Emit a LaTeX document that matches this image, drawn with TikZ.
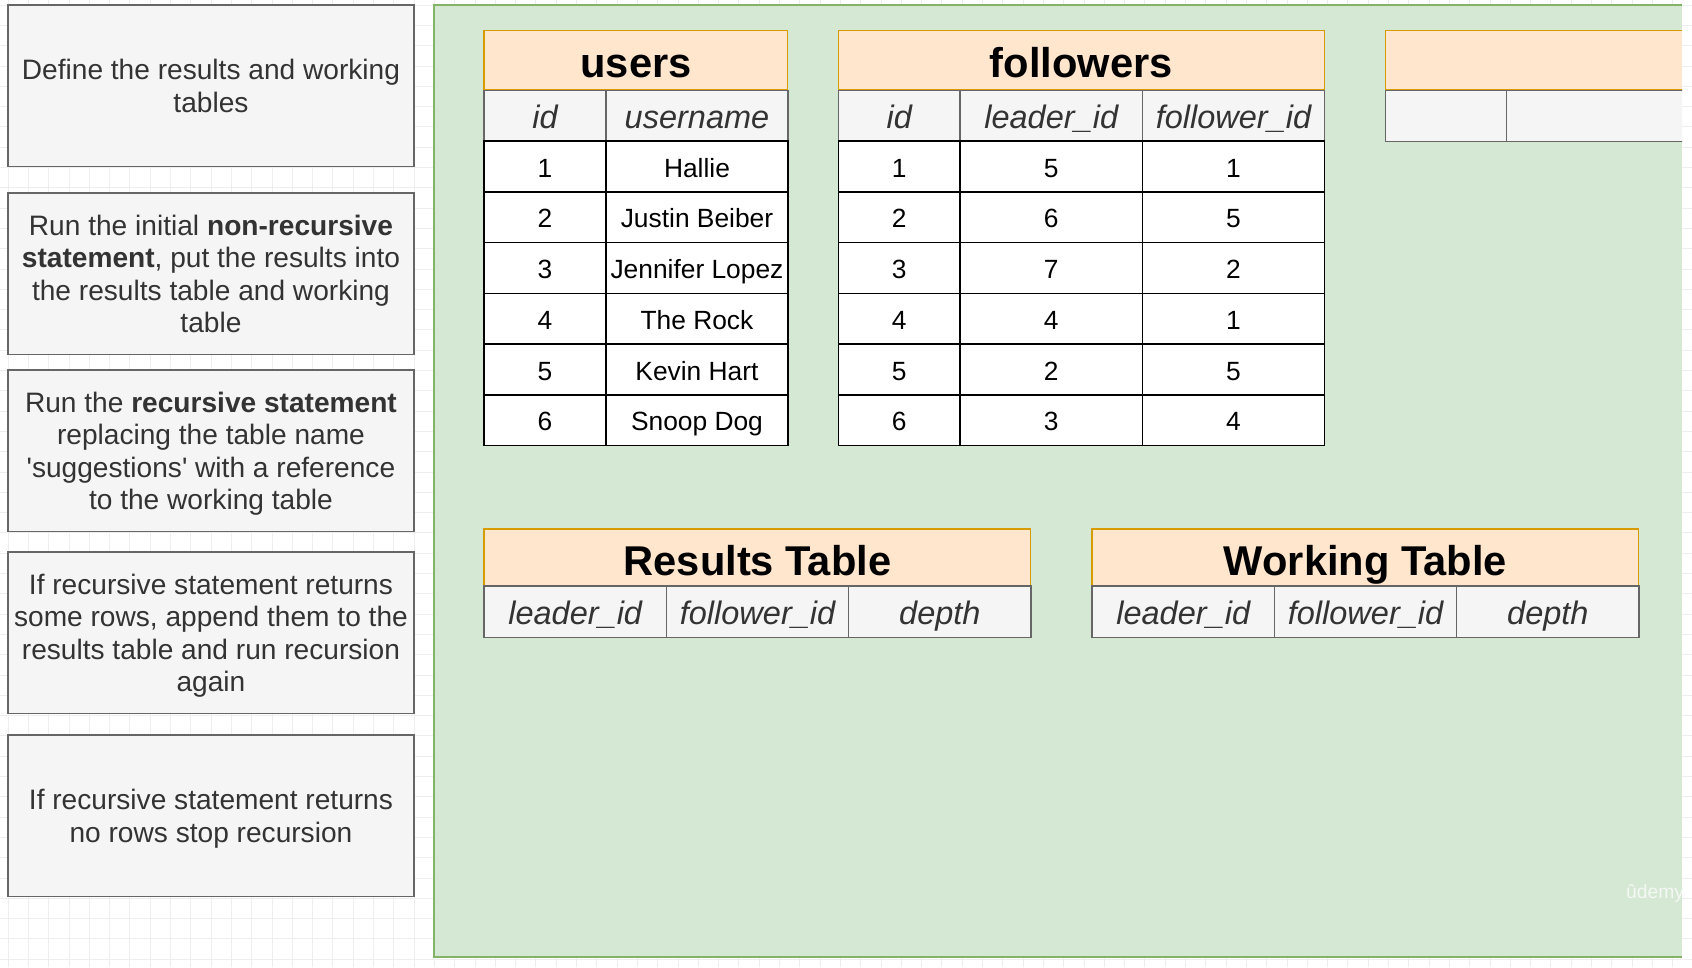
\documentclass[tikz,border=0pt]{standalone}
\usepackage{fontspec}
\setmainfont{Liberation Sans}
\definecolor{stepfill}{HTML}{F5F5F5}
\definecolor{stepline}{HTML}{666666}
\definecolor{txt}{HTML}{333333}
\definecolor{peach}{HTML}{FFE6CC}
\definecolor{peachline}{HTML}{D79B00}
\definecolor{panel}{HTML}{D5E8D4}
\definecolor{panelline}{HTML}{82B366}
\definecolor{gridc}{HTML}{EEEEEE}

\tikzset{
  stepbox/.style={draw=stepline, fill=stepfill, line width=0.85pt, text=txt, align=center,
    minimum width=8.12cm, minimum height=3.23cm, inner sep=0pt, outer sep=0pt, anchor=north west,
    text depth=0pt, font=\fontsize{16}{18.4}\selectfont},
  ttl/.style={draw=peachline, fill=peach, line width=0.6pt, minimum height=1.19cm, inner sep=0pt,
    outer sep=0pt, anchor=north west, text height=22.5pt, text depth=2.4pt,
    font=\fontsize{23.7}{24}\selectfont\bfseries},
  hdr/.style={draw=stepline, fill=stepfill, line width=0.85pt, text=txt, minimum height=1.02cm,
    inner sep=0pt, outer sep=0pt, anchor=north west, text height=15.9pt, text depth=1.85pt,
    font=\fontsize{18.5}{20}\selectfont\itshape},
  cell/.style={draw=black, fill=white, line width=0.85pt, minimum height=1.015cm, inner sep=0pt,
    outer sep=0pt, anchor=north west, text height=13.8pt, text depth=1.5pt,
    font=\fontsize{15}{16}\selectfont},
}

\begin{document}
\begin{tikzpicture}[x=0.02cm,y=-0.02cm]
\useasboundingbox (0,0) rectangle (1692,967);
% background grid
\foreach \k in {0,...,83} \draw[gridc, line width=0.4pt] ({8+20.3*\k},0) -- ++(0,967);
\foreach \k in {0,...,47} \draw[gridc, line width=0.4pt] (0,{5+20.3*\k}) -- ++(1692,0);

% steps on the left
\node[stepbox] (s1) at (8,5) {Define the results and working\\tables};
\node[stepbox] (s2) at (8,193) {Run the initial \textbf{non-recursive}\\\textbf{statement}, put the results into\\the results table and working\\table};
\node[stepbox] (s3) at (8,370) {Run the \textbf{recursive statement}\\replacing the table name\\\textquotesingle suggestions\textquotesingle{} with a reference\\to the working table};
\node[stepbox] (s4) at (8,552) {If recursive statement returns\\some rows, append them to the\\results table and run recursion\\again};
\node[stepbox] (s5) at (8,735) {If recursive statement returns\\no rows stop recursion};

% green panel
\fill[panel] (434,5) rectangle (1682,957);
\draw[panelline, line width=0.85pt] (1682,5) -- (434,5) -- (434,957) -- (1682,957);

% users
\node[ttl, minimum width=6.08cm] (users) at (484,30.5) {users};
\node[hdr, minimum width=2.44cm] (uid) at (484,90.7) {id};
\node[hdr, minimum width=3.64cm] (uname) at (606,90.7) {username};
\foreach \a/\b [count=\r] in {1/Hallie, 2/Justin Beiber, 3/Jennifer Lopez, 4/The Rock, 5/Kevin Hart, 6/Snoop Dog}{
  \node[cell, minimum width=2.44cm] (u\r-id) at (484,{141+50.75*(\r-1)}) {\a};
  \node[cell, minimum width=3.64cm] (u\r-name) at (606,{141+50.75*(\r-1)}) {\b};
}

% followers
\node[ttl, minimum width=9.72cm] (followers) at (838.3,30.5) {followers};
\node[hdr, minimum width=2.44cm] (fid) at (838.3,90.7) {id};
\node[hdr, minimum width=3.65cm] (flead) at (960,90.7) {leader\_id};
\node[hdr, minimum width=3.64cm] (ffol) at (1142.5,90.7) {follower\_id};
\foreach \a/\b/\c [count=\r] in {1/5/1, 2/6/5, 3/7/2, 4/4/1, 5/2/5, 6/3/4}{
  \node[cell, minimum width=2.44cm] (f\r-id) at (838.3,{141+50.75*(\r-1)}) {\a};
  \node[cell, minimum width=3.65cm] (f\r-lead) at (960,{141+50.75*(\r-1)}) {\b};
  \node[cell, minimum width=3.64cm] (f\r-fol) at (1142.5,{141+50.75*(\r-1)}) {\c};
}

% third table, cut off by the panel edge
\begin{scope}
\clip (434,5) rectangle (1682,957);
\node[ttl, minimum width=9.72cm] (t3) at (1385.6,30.5) {};
\node[hdr, minimum width=2.42cm] (t3a) at (1385.6,90.7) {};
\node[hdr, minimum width=3.65cm] (t3b) at (1506.7,90.7) {};
\end{scope}

% results and working tables
\node[ttl, minimum width=10.94cm, minimum height=1.14cm] (results) at (484,529) {Results Table};
\node[ttl, minimum width=10.94cm, minimum height=1.14cm] (working) at (1092,529) {Working Table};
\foreach \t/\x in {r/484, w/1092}{
  \node[hdr, minimum width=3.65cm, minimum height=1.03cm] (\t-lead) at (\x,586) {leader\_id};
  \node[hdr, minimum width=3.65cm, minimum height=1.03cm] (\t-fol) at ({\x+182.3},586) {follower\_id};
  \node[hdr, minimum width=3.65cm, minimum height=1.03cm] (\t-depth) at ({\x+364.6},586) {depth};
}

\node[text=white!70!panel, font=\fontsize{11}{11}\selectfont] (wm) at (1655,893) {ûdemy};
\end{tikzpicture}
\end{document}
